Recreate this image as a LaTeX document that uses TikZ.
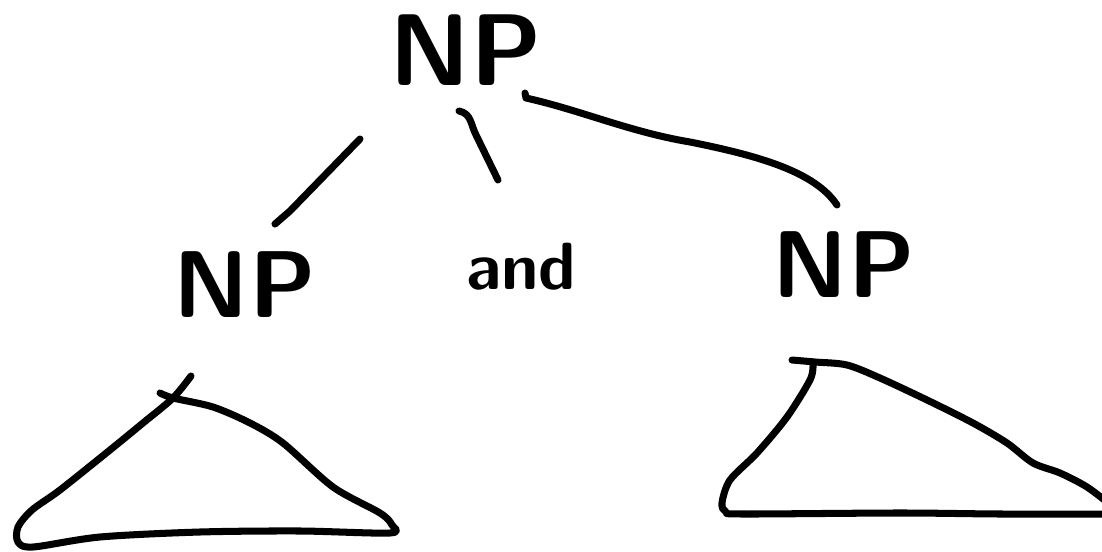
\documentclass[tikz,border=0pt]{standalone}
\usepackage{fontspec}

\begin{document}
\begin{tikzpicture}[x=0.2mm, y=-0.2mm,
  pen/.style={line width=4pt, line cap=round, line join=round},
  cat/.style={font=\sffamily\bfseries\fontsize{#1}{#1}\selectfont,
              inner sep=0pt, anchor=base},
  cat/.default=54]

% Canvas (also fixes the bounding box)
\clip (0,0) rectangle (1102,552);

% ================================================================
% Category labels
% ================================================================
\node[cat=58] (npTop)   at (466,85)  {NP};
\node[cat]    (npLeft)  at (245,317) {NP};
\node[cat=38] (conj)    at (521,289) {and};
\node[cat]    (npRight) at (844,297) {NP};

% ================================================================
% Branches (free ends between the labels)
% ================================================================
\coordinate (lTop) at (360,139);
\coordinate (lBot) at (275,224);
\coordinate (mTop) at (459,111);
\coordinate (mBot) at (498,180);
\coordinate (rTop) at (525,93);
\coordinate (rBot) at (837,205);

\draw[pen] (lTop) -- (290,211) -- (lBot);
\draw[pen] (mTop) .. controls (472,114) and (470,124) .. (477,137) -- (mBot);
\draw[pen] (rTop) -- (526,98) .. controls (580,110) and (630,132) .. (690,142)
  .. controls (760,156) and (815,172) .. (rBot);

% ================================================================
% Triangles (unexpanded subtrees)
% ================================================================
% under the left NP
\draw[pen] plot[smooth, tension=0.5] coordinates {
  (191,376) (173,398) (143,423) (110,450) (60,490) (32,510) (18,527)
  (18,542) (33,547) (100,537) (200,532) (300,531) (390,533) (392,525)
  (380,513) (333,487) (283,443) (250,423) (213,407) (173,398) (160,393)};

% under the right NP (runs off the right edge)
\draw[pen] plot[smooth, tension=0.5] coordinates {
  (792,360) (815,362) (847,365) (880,378) (927,400) (973,423)
  (1007,443) (1033,463) (1060,473) (1087,487) (1112,506)};
\draw[pen] plot[smooth, tension=0.5] coordinates {
  (813,365) (810,380) (787,417) (757,453) (730,480) (722,503)
  (726,512) (743,514) (900,513) (1000,514) (1112,514)};

\end{tikzpicture}
\end{document}
